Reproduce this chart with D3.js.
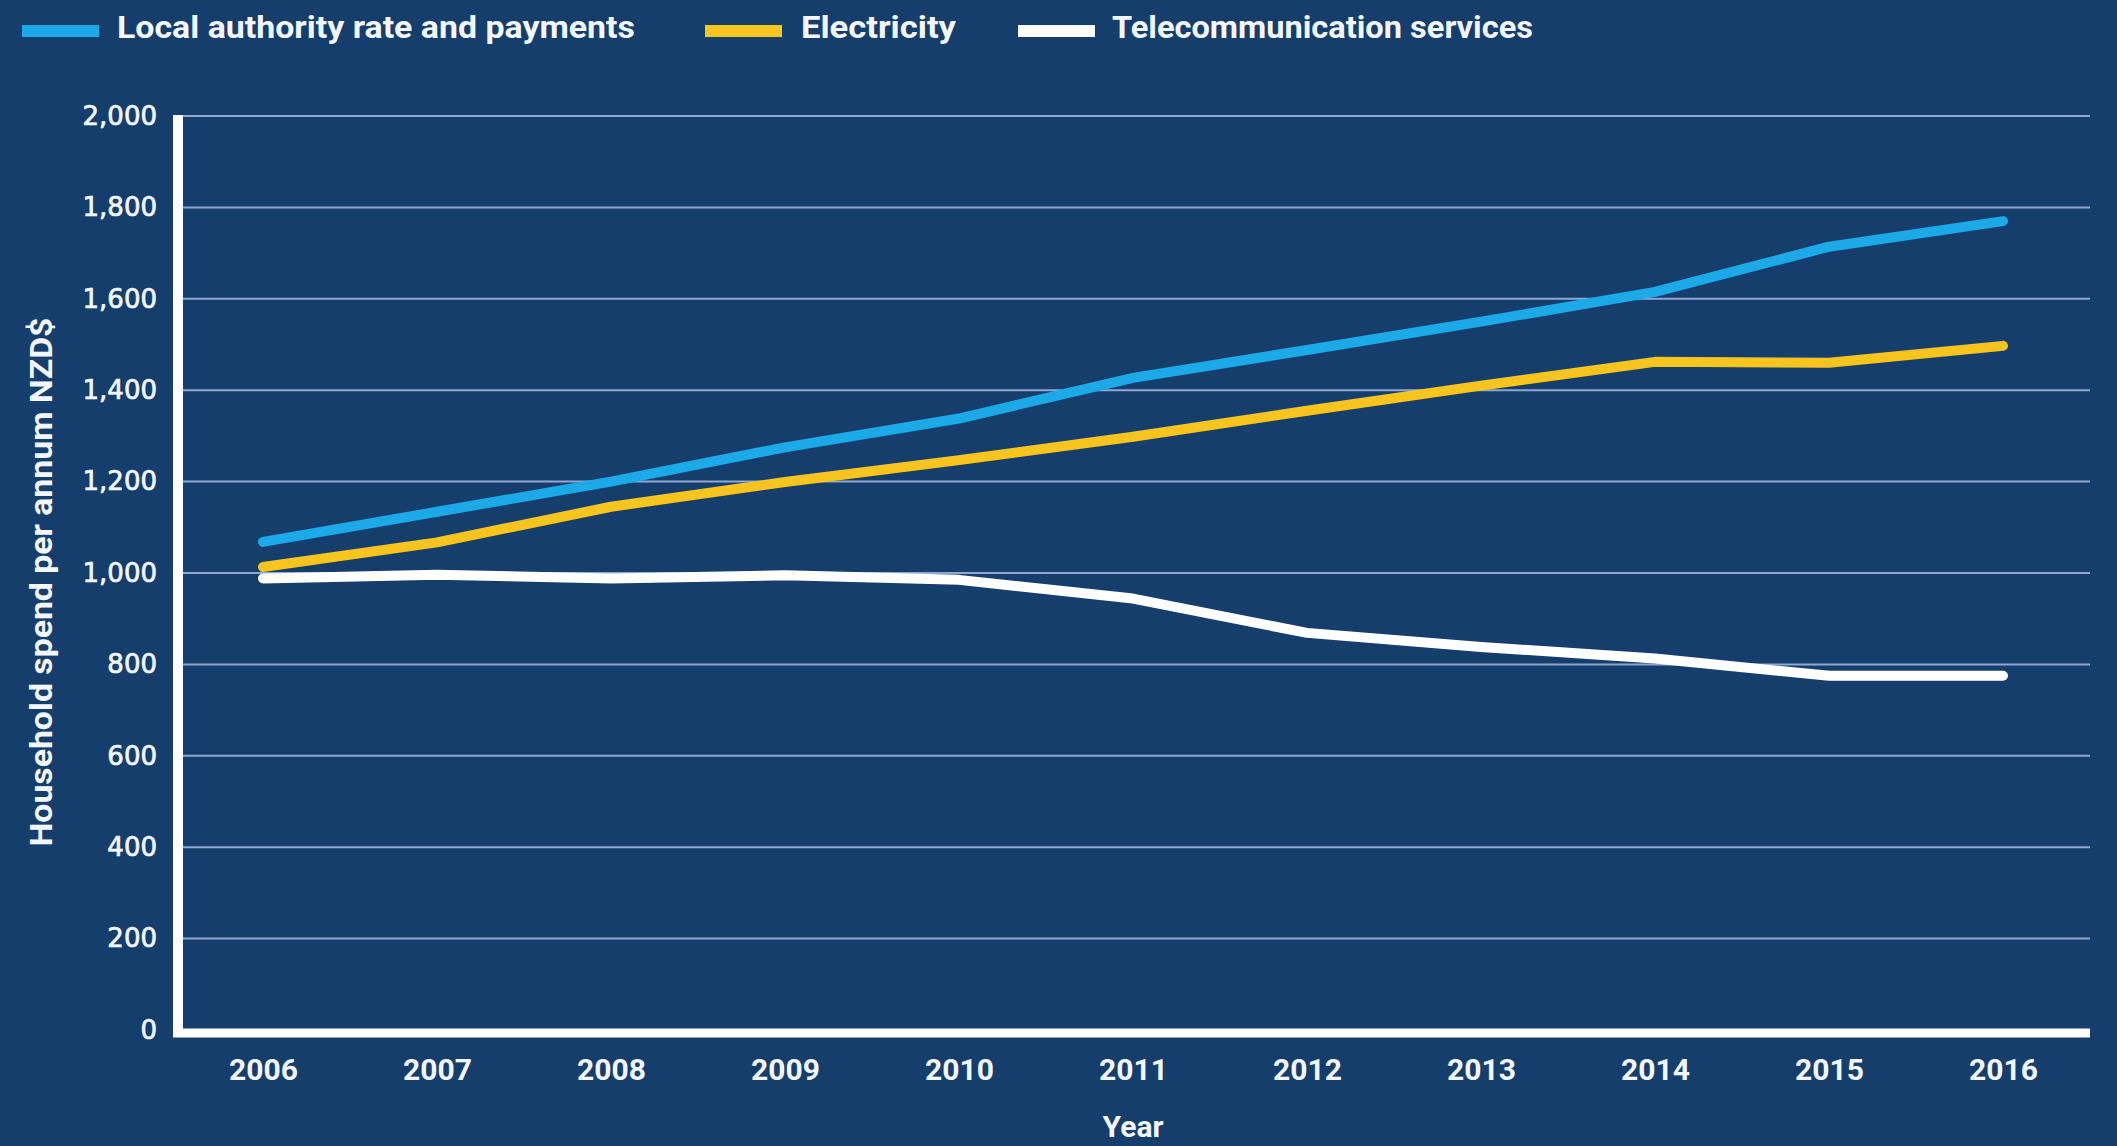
<!DOCTYPE html>
<html>
<head>
<meta charset="utf-8">
<script src="https://cdn.jsdelivr.net/npm/d3@7"></script>
<style>
  html, body { margin: 0; padding: 0; background: #163e6d; }
  svg { display: block; }
</style>
</head>
<body>
<svg id="chart" width="2117" height="1146"></svg>
<script>
// Household spend per annum (NZD$), 2006–2016
const years = ["2006","2007","2008","2009","2010","2011","2012","2013","2014","2015","2016"];
const localAuthority = [1068, 1134, 1200, 1275, 1338, 1427, 1488, 1550, 1615, 1714, 1770];
const electricity    = [1013, 1067, 1145, 1199, 1247, 1298, 1355, 1410, 1462, 1460, 1497];
const telecom        = [988, 996, 988, 995, 985, 944, 869, 838, 813, 775, 775];
const seriesNames = ["Local authority rate and payments", "Electricity", "Telecommunication services"];
const yTicks = [0, 200, 400, 600, 800, 1000, 1200, 1400, 1600, 1800, 2000];

const colors = ["#1ba9e7", "#f7c51d", "#ffffff"];
const bg = "#163e6d";
const textColor = "#f3f7fb";

const svg = d3.select("#chart");
svg.append("rect").attr("width", 2117).attr("height", 1146).attr("fill", bg);

const plotLeft = 178, plotRight = 2090, plotTop = 116, plotBottom = 1030;

const x = d3.scalePoint().domain(years).range([176, plotRight]).padding(0.5);
const y = d3.scaleLinear().domain([0, 2000]).range([plotBottom, plotTop]);

// horizontal gridlines
svg.append("g")
  .selectAll("line")
  .data(yTicks)
  .join("line")
  .attr("x1", plotLeft).attr("x2", plotRight)
  .attr("y1", d => y(d)).attr("y2", d => y(d))
  .attr("stroke", "#8fa9d2")
  .attr("stroke-width", 2);

// y axis labels
const yAxis = svg.append("g")
  .attr("transform", `translate(${plotLeft},0)`)
  .call(d3.axisLeft(y).tickValues(yTicks).tickFormat(d3.format(",")).tickSize(0).tickPadding(21));
yAxis.select(".domain").remove();
yAxis.selectAll("text")
  .attr("fill", textColor)
  .attr("stroke", textColor)
  .attr("stroke-width", 0.7)
  .attr("font-family", "'DejaVu Sans', sans-serif")
  .attr("font-weight", "normal")
  .attr("font-size", 26);

// x axis labels
const xAxis = svg.append("g")
  .attr("transform", `translate(0,${plotBottom})`)
  .call(d3.axisBottom(x).tickSize(0).tickPadding(29));
xAxis.select(".domain").remove();
xAxis.selectAll("text")
  .attr("fill", textColor)
  .attr("font-family", "Roboto, sans-serif")
  .attr("font-weight", "bold")
  .attr("font-size", 30);

// axis frame lines
svg.append("line")
  .attr("x1", plotLeft).attr("x2", plotLeft)
  .attr("y1", plotTop - 1).attr("y2", plotBottom + 7)
  .attr("stroke", "#ffffff").attr("stroke-width", 10);
svg.append("line")
  .attr("x1", plotLeft - 5).attr("x2", plotRight)
  .attr("y1", plotBottom + 3).attr("y2", plotBottom + 3)
  .attr("stroke", "#ffffff").attr("stroke-width", 9);

// series lines
const line = d3.line()
  .x((d, i) => x(years[i]))
  .y(d => y(d));

[localAuthority, electricity, telecom].forEach((vals, k) => {
  svg.append("path")
    .datum(vals)
    .attr("d", line)
    .attr("fill", "none")
    .attr("stroke", colors[k])
    .attr("stroke-width", 10)
    .attr("stroke-linejoin", "round")
    .attr("stroke-linecap", "round");
});

// legend
const legendItems = [
  { sx: 22, tx: 117, w: 518 },
  { sx: 705, tx: 801, w: 155 },
  { sx: 1018, tx: 1112, w: 421 }
];
legendItems.forEach((it, k) => {
  svg.append("rect")
    .attr("x", it.sx).attr("y", 25)
    .attr("width", 77).attr("height", 12)
    .attr("fill", colors[k]);
  svg.append("text")
    .attr("x", it.tx).attr("y", 38)
    .attr("fill", textColor)
    .attr("font-family", "Roboto, sans-serif")
    .attr("font-weight", "bold")
    .attr("font-size", 31)
    .attr("textLength", it.w)
    .attr("lengthAdjust", "spacingAndGlyphs")
    .text(seriesNames[k]);
});

// axis titles
svg.append("text")
  .attr("transform", "translate(52,582) rotate(-90)")
  .attr("text-anchor", "middle")
  .attr("fill", textColor)
  .attr("font-family", "Roboto, sans-serif")
  .attr("font-weight", "bold")
  .attr("font-size", 31)
  .attr("textLength", 529)
  .attr("lengthAdjust", "spacingAndGlyphs")
  .text("Household spend per annum NZD$");

svg.append("text")
  .attr("x", 1133).attr("y", 1137)
  .attr("text-anchor", "middle")
  .attr("fill", textColor)
  .attr("font-family", "Roboto, sans-serif")
  .attr("font-weight", "bold")
  .attr("font-size", 30)
  .text("Year");
</script>
</body>
</html>
